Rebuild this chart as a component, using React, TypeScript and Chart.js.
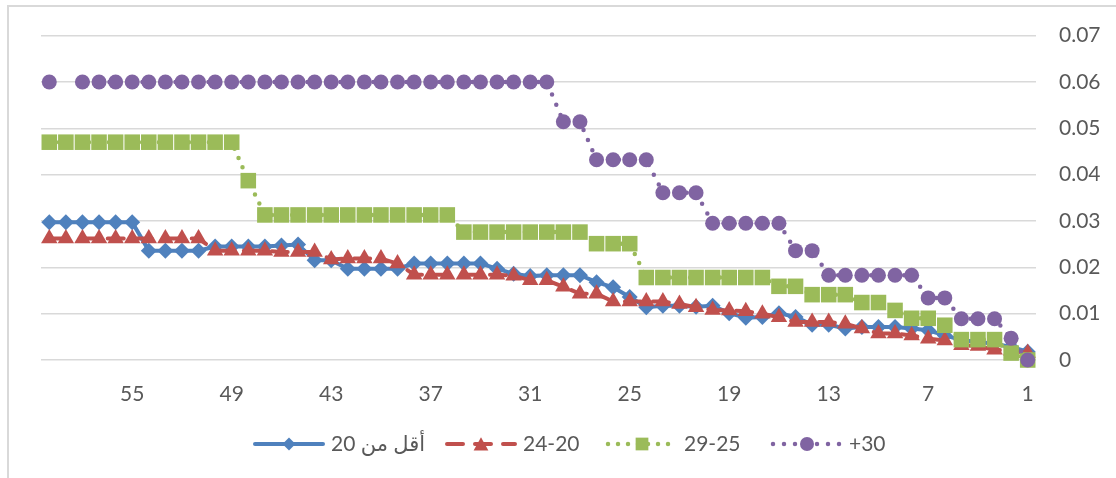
import React, { useEffect, useRef } from "react";
import { Chart, registerables } from "chart.js";

Chart.register(...registerables);

// ---------- data ----------
const categories = [
  "1", "2", "3", "4", "5", "6", "7", "8", "9", "10",
  "11", "12", "13", "14", "15", "16", "17", "18", "19", "20",
  "21", "22", "23", "24", "25", "26", "27", "28", "29", "30",
  "31", "32", "33", "34", "35", "36", "37", "38", "39", "40",
  "41", "42", "43", "44", "45", "46", "47", "48", "49", "50",
  "51", "52", "53", "54", "55", "56", "57", "58", "59", "60",
];

const labeledCategories = ["1", "7", "13", "19", "25", "31", "37", "43", "49", "55"];

const yTickValues = [0, 0.01, 0.02, 0.03, 0.04, 0.05, 0.06, 0.07];
const yTickLabels = ["0", "0.01", "0.02", "0.03", "0.04", "0.05", "0.06", "0.07"];

const seriesLabels = ["أقل من 20", "24-20", "29-25", "+30"];

// values for categories 1..60
const under20 = [
  0.0018, 0.0028, 0.0035, 0.0039, 0.0043, 0.0053, 0.0064, 0.0068, 0.0071, 0.0071,
  0.0071, 0.0068, 0.0076, 0.0076, 0.0093, 0.0101, 0.0093, 0.0091, 0.0101, 0.0117,
  0.0115, 0.0117, 0.0117, 0.0114, 0.0136, 0.0157, 0.0168, 0.0183, 0.0183, 0.0183,
  0.0181, 0.0186, 0.0197, 0.0208, 0.0208, 0.0208, 0.0208, 0.0208, 0.0197, 0.0197,
  0.0197, 0.0197, 0.0215, 0.0215, 0.0249, 0.0247, 0.0245, 0.0245, 0.0245, 0.0245,
  0.0236, 0.0236, 0.0236, 0.0236, 0.0297, 0.0297, 0.0297, 0.0297, 0.0297, 0.0297,
];

const age20to24 = [
  0.0015, 0.0020, 0.0022, 0.0030, 0.0032, 0.0042, 0.0046, 0.0053, 0.0057, 0.0057,
  0.0068, 0.0078, 0.0082, 0.0082, 0.0082, 0.0092, 0.0100, 0.0105, 0.0107, 0.0108,
  0.0114, 0.0121, 0.0126, 0.0126, 0.0126, 0.0126, 0.0143, 0.0143, 0.0158, 0.0172,
  0.0172, 0.0182, 0.0184, 0.0184, 0.0184, 0.0184, 0.0184, 0.0184, 0.0208, 0.0219,
  0.0219, 0.0219, 0.0217, 0.0233, 0.0233, 0.0233, 0.0236, 0.0236, 0.0236, 0.0236,
  0.0262, 0.0262, 0.0262, 0.0262, 0.0262, 0.0262, 0.0262, 0.0262, 0.0262, 0.0262,
];

const age25to29 = [
  0.0, 0.0015, 0.0044, 0.0044, 0.0044, 0.0075, 0.009, 0.009, 0.0107, 0.0124,
  0.0124, 0.0141, 0.0141, 0.0141, 0.0159, 0.0159, 0.0178, 0.0178, 0.0178, 0.0178,
  0.0178, 0.0178, 0.0178, 0.0178, 0.0251, 0.0251, 0.0251, 0.0276, 0.0276, 0.0276,
  0.0276, 0.0276, 0.0276, 0.0276, 0.0276, 0.0313, 0.0313, 0.0313, 0.0313, 0.0313,
  0.0313, 0.0313, 0.0313, 0.0313, 0.0313, 0.0313, 0.0313, 0.0387, 0.047, 0.047,
  0.047, 0.047, 0.047, 0.047, 0.047, 0.047, 0.047, 0.047, 0.047, 0.047,
];

const age30plus = [
  0.0, 0.0047, 0.0089, 0.0089, 0.0089, 0.0134, 0.0134, 0.0183, 0.0183, 0.0183,
  0.0183, 0.0183, 0.0183, 0.0236, 0.0236, 0.0295, 0.0295, 0.0295, 0.0295, 0.0295,
  0.0361, 0.0361, 0.0361, 0.0432, 0.0432, 0.0432, 0.0432, 0.0514, 0.0514, 0.06,
  0.06, 0.06, 0.06, 0.06, 0.06, 0.06, 0.06, 0.06, 0.06, 0.06,
  0.06, 0.06, 0.06, 0.06, 0.06, 0.06, 0.06, 0.06, 0.06, 0.06,
  0.06, 0.06, 0.06, 0.06, 0.06, 0.06, 0.06, 0.06, null, 0.06,
];

// ---------- style ----------
const FONT_FAMILY = 'Lato, "DejaVu Sans", sans-serif';
const FONT_SIZE = 21;
const TEXT_COLOR = "#595959";
const GRID_COLOR = "#d9d9d9";
const LEGEND_ITEM_X = [253, 445, 606, 771];
const LEGEND_MARKER_R = [6.5, 8.5, 9, 7];
const LEGEND_Y = 444;

const isRtl = (s: string) => /[\u0600-\u06FF]/.test(s);

function drawMarker(ctx: CanvasRenderingContext2D, style: string, x: number, y: number, r: number) {
  ctx.beginPath();
  if (style === "rectRot") {
    ctx.moveTo(x - r, y);
    ctx.lineTo(x, y - r);
    ctx.lineTo(x + r, y);
    ctx.lineTo(x, y + r);
  } else if (style === "triangle") {
    ctx.moveTo(x, y - r * 0.75 - 0.5);
    ctx.lineTo(x + r * 0.866, y + r * 0.75);
    ctx.lineTo(x - r * 0.866, y + r * 0.75);
  } else if (style === "rect") {
    const s = r * Math.SQRT1_2;
    ctx.rect(x - s, y - s, 2 * s, 2 * s);
  } else {
    ctx.arc(x, y, r, 0, Math.PI * 2);
  }
  ctx.closePath();
  ctx.fill();
}

const excelLegend = {
  id: "excelLegend",
  afterDraw(chart: any) {
    const ctx: CanvasRenderingContext2D = chart.ctx;
    const dsets = chart.data.datasets;
    ctx.save();
    ctx.font = `${FONT_SIZE}px ${FONT_FAMILY}`;
    const symW = 72;
    const textGap = 6;
    const y = LEGEND_Y;
    dsets.forEach((d: any, i: number) => {
      const x = LEGEND_ITEM_X[i];
      ctx.save();
      ctx.strokeStyle = d.borderColor;
      ctx.lineWidth = d.borderWidth;
      ctx.setLineDash(d.borderDash || []);
      ctx.lineCap = d.borderCapStyle || "butt";
      ctx.beginPath();
      ctx.moveTo(x + 2, y);
      ctx.lineTo(x + symW - 2, y);
      ctx.stroke();
      ctx.setLineDash([]);
      ctx.fillStyle = d.pointBackgroundColor;
      drawMarker(ctx, d.pointStyle, x + symW / 2, y, LEGEND_MARKER_R[i]);
      ctx.restore();
      ctx.fillStyle = TEXT_COLOR;
      ctx.textBaseline = "middle";
      ctx.textAlign = "left";
      ctx.direction = isRtl(d.label) ? "rtl" : "ltr";
      ctx.fillText(d.label, x + symW + textGap, y);
    });
    ctx.restore();
  },
};

export default function App() {
  const canvasRef = useRef<HTMLCanvasElement | null>(null);

  useEffect(() => {
    const canvas = canvasRef.current;
    if (!canvas) return;
    const font = { family: FONT_FAMILY, size: FONT_SIZE };
    const chart = new Chart(canvas, {
      type: "line",
      data: {
        labels: categories,
        datasets: [
          {
            label: seriesLabels[0],
            data: under20,
            borderColor: "#4F81BD",
            backgroundColor: "#4F81BD",
            pointBackgroundColor: "#4F81BD",
            pointBorderColor: "#4F81BD",
            borderWidth: 4,
            borderCapStyle: "round",
            pointStyle: "rectRot",
            pointRadius: 8,
            pointBorderWidth: 0,
            tension: 0,
            clip: false,
            order: 4,
          },
          {
            label: seriesLabels[1],
            data: age20to24,
            borderColor: "#C0504D",
            backgroundColor: "#C0504D",
            pointBackgroundColor: "#C0504D",
            pointBorderColor: "#C0504D",
            borderWidth: 4,
            borderDash: [16, 12],
            borderCapStyle: "round",
            pointStyle: "triangle",
            pointRadius: 9.5,
            pointBorderWidth: 0,
            tension: 0,
            clip: false,
            order: 3,
          },
          {
            label: seriesLabels[2],
            data: age25to29,
            borderColor: "#9BBB59",
            backgroundColor: "#9BBB59",
            pointBackgroundColor: "#9BBB59",
            pointBorderColor: "#9BBB59",
            borderWidth: 4.5,
            borderDash: [0, 10],
            borderCapStyle: "round",
            pointStyle: "rect",
            pointRadius: 11,
            pointBorderWidth: 0,
            tension: 0,
            clip: false,
            order: 2,
          },
          {
            label: seriesLabels[3],
            data: age30plus,
            borderColor: "#8064A2",
            backgroundColor: "#8064A2",
            pointBackgroundColor: "#8064A2",
            pointBorderColor: "#8064A2",
            borderWidth: 4.5,
            borderDash: [0, 11],
            borderCapStyle: "round",
            pointStyle: "circle",
            pointRadius: 7.5,
            pointBorderWidth: 0,
            tension: 0,
            spanGaps: false,
            clip: false,
            order: 1,
          },
        ],
      },
      options: {
        responsive: false,
        animation: false,
        devicePixelRatio: 1,
        layout: { padding: { left: 41, top: 35, right: 0, bottom: 0 } },
        plugins: {
          legend: { display: false },
          tooltip: { enabled: false },
        },
        scales: {
          x: {
            type: "category",
            reverse: true,
            offset: true,
            grid: { display: false },
            border: { display: false },
            ticks: {
              autoSkip: false,
              maxRotation: 0,
              minRotation: 0,
              padding: 14,
              color: TEXT_COLOR,
              font,
              callback: (v: any) => {
                const c = categories[v as number];
                return labeledCategories.includes(c) ? c : null;
              },
            },
            afterFit: (scale: any) => {
              scale.height = 118;
            },
          },
          y: {
            position: "right",
            min: 0,
            max: 0.07,
            grid: { color: GRID_COLOR, lineWidth: 1.5, drawTicks: false },
            border: { display: false },
            ticks: {
              stepSize: 0.01,
              padding: 23,
              color: TEXT_COLOR,
              font,
              callback: (v: any) => {
                const i = yTickValues.findIndex((t) => Math.abs(t - (v as number)) < 1e-9);
                return i >= 0 ? yTickLabels[i] : null;
              },
            },
            afterFit: (scale: any) => {
              scale.width = 80;
            },
          },
        },
      },
      plugins: [excelLegend],
    } as any);
    return () => chart.destroy();
  }, []);

  return (
    <div
      style={{
        position: "fixed",
        left: 0,
        top: 0,
        width: 1116,
        height: 478,
        overflow: "hidden",
        background: "#ffffff",
      }}
    >
      <div
        style={{
          position: "absolute",
          left: 7,
          top: 5,
          width: 1300,
          height: 700,
          borderLeft: "2px solid #d9d9d9",
          borderTop: "2px solid #d9d9d9",
        }}
      />
      <canvas
        ref={canvasRef}
        width={1116}
        height={478}
        style={{ position: "absolute", left: 0, top: 0, display: "block" }}
      />
    </div>
  );
}
